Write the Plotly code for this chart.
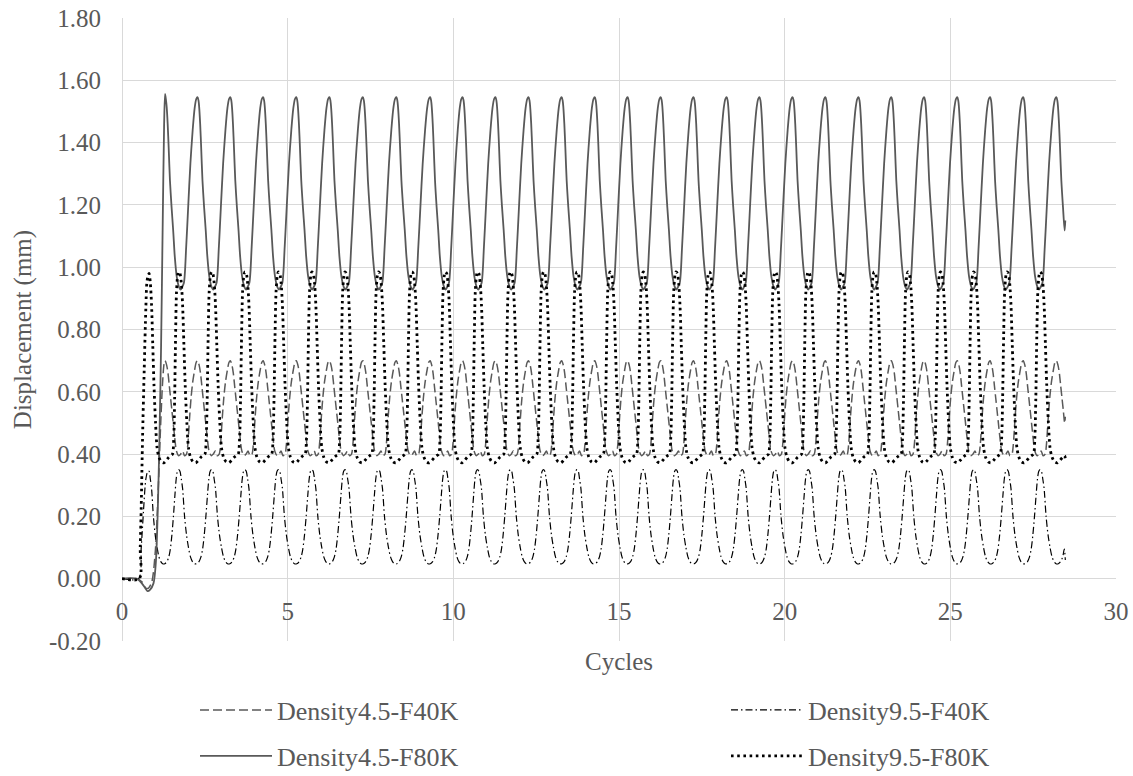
import plotly.graph_objects as go

# ---------------- data ----------------
peaks_45 = [1.30, 2.28, 3.27, 4.26, 5.26, 6.26, 7.27, 8.28, 9.30, 10.28,
            11.27, 12.27, 13.27, 14.27, 15.26, 16.26, 17.25, 18.25, 19.24,
            20.24, 21.23, 22.23, 23.22, 24.21, 25.21, 26.20, 27.20, 28.20, 29.20]
peaks_95 = [0.78, 1.71, 2.70, 3.71, 4.72, 5.73, 6.73, 7.74, 8.75, 9.76,
            10.73, 11.72, 12.72, 13.73, 14.73, 15.73, 16.72, 17.72, 18.72,
            19.71, 20.71, 21.71, 22.70, 23.72, 24.70, 25.70, 26.71, 27.71, 28.71]

f80_45_phase = [0.00, 0.03, 0.05, 0.08, 0.11, 0.15, 0.20, 0.25, 0.30, 0.36,
                0.43, 0.48, 0.52, 0.58, 0.65, 0.71, 0.78, 0.85, 0.91, 0.96]
f80_45_value = [1.546, 1.535, 1.514, 1.46, 1.386, 1.279, 1.193, 1.118, 1.033, 0.969,
                0.936, 0.928, 0.935, 0.95, 1.065, 1.19, 1.333, 1.44, 1.51, 1.54]

f40_45_phase = [0.00, 0.05, 0.09, 0.13, 0.17, 0.21, 0.25, 0.30, 0.35, 0.42,
                0.48, 0.54, 0.60, 0.66, 0.70, 0.75, 0.80, 0.85, 0.91, 0.96]
f40_45_value = [0.70, 0.685, 0.66, 0.62, 0.58, 0.54, 0.50, 0.45, 0.41, 0.395,
                0.40, 0.41, 0.395, 0.40, 0.43, 0.51, 0.58, 0.63, 0.67, 0.695]

f80_95_phase = [0.00, 0.04, 0.08, 0.12, 0.16, 0.20, 0.25, 0.30, 0.36, 0.44,
                0.52, 0.60, 0.68, 0.74, 0.80, 0.84, 0.87, 0.90, 0.93, 0.97]
f80_95_value = [0.985, 0.98, 0.95, 0.88, 0.75, 0.62, 0.50, 0.42, 0.39, 0.375,
                0.372, 0.38, 0.39, 0.395, 0.40, 0.45, 0.58, 0.78, 0.92, 0.975]

f40_95_phase = [0.00, 0.04, 0.08, 0.12, 0.18, 0.24, 0.30, 0.36, 0.42, 0.48,
                0.55, 0.62, 0.68, 0.73, 0.78, 0.83, 0.88, 0.92, 0.96]
f40_95_value = [0.35, 0.345, 0.32, 0.29, 0.20, 0.14, 0.10, 0.07, 0.055, 0.048,
                0.048, 0.055, 0.07, 0.095, 0.14, 0.20, 0.27, 0.32, 0.345]

f80_45_start_x = [0, 0.45, 0.60, 0.70, 0.77, 0.85, 0.95, 1.02, 1.08, 1.13, 1.18, 1.23, 1.27]
f80_45_start_y = [0, 0, -0.015, -0.03, -0.04, -0.035, -0.015, 0.05, 0.22, 0.45, 0.75, 1.15, 1.45]
f80_45_first_peak = 1.556

f40_45_start_x = [0, 0.45, 0.60, 0.72, 0.80, 0.90, 1.00, 1.08, 1.15, 1.22, 1.27]
f40_45_start_y = [0, 0, -0.01, -0.03, -0.03, -0.01, 0.08, 0.25, 0.45, 0.62, 0.69]
f40_45_first_peak = 0.70

f80_95_start_x = [0, 0.52, 0.55, 0.58, 0.62, 0.67, 0.72, 0.75]
f80_95_start_y = [0, 0, 0.10, 0.23, 0.45, 0.67, 0.87, 0.95]
f80_95_first_peak = 0.97

f40_95_start_x = [0, 0.50, 0.58, 0.65, 0.72]
f40_95_start_y = [0, 0, 0.10, 0.22, 0.32]
f40_95_first_peak = 0.345

end_x = 28.47
f80_45_end = 1.15
f40_45_end = 0.52
f80_95_end = 0.385
f40_95_end = 0.06

names = ["Density4.5-F40K", "Density9.5-F40K", "Density4.5-F80K", "Density9.5-F80K"]
x_ticks = [0, 5, 10, 15, 20, 25, 30]
y_ticks = [-0.2, 0.0, 0.2, 0.4, 0.6, 0.8, 1.0, 1.2, 1.4, 1.6, 1.8]


def build(start_x, start_y, first_peak, peaks, phase, value, end_y):
    xs = list(start_x)
    ys = list(start_y)
    for i in range(len(peaks) - 1):
        p0, p1 = peaks[i], peaks[i + 1]
        for k, (f, v) in enumerate(zip(phase, value)):
            x = p0 + f * (p1 - p0)
            if x >= end_x:
                break
            xs.append(x)
            ys.append(first_peak if (i == 0 and k == 0) else v)
    xs.append(end_x)
    ys.append(end_y)
    return xs, ys


series = {
    "Density4.5-F40K": build(f40_45_start_x, f40_45_start_y, f40_45_first_peak, peaks_45,
                             f40_45_phase, f40_45_value, f40_45_end),
    "Density9.5-F40K": build(f40_95_start_x, f40_95_start_y, f40_95_first_peak, peaks_95,
                             f40_95_phase, f40_95_value, f40_95_end),
    "Density4.5-F80K": build(f80_45_start_x, f80_45_start_y, f80_45_first_peak, peaks_45,
                             f80_45_phase, f80_45_value, f80_45_end),
    "Density9.5-F80K": build(f80_95_start_x, f80_95_start_y, f80_95_first_peak, peaks_95,
                             f80_95_phase, f80_95_value, f80_95_end),
}

styles = {
    "Density4.5-F40K": dict(color="#595959", width=1.5, dash="9px,4px"),
    "Density9.5-F40K": dict(color="#000000", width=1.2, dash="7px,3px,1.5px,3px"),
    "Density4.5-F80K": dict(color="#595959", width=1.8, dash="solid"),
    "Density9.5-F80K": dict(color="#000000", width=2.8, dash="2.6px,3.6px"),
}

legend_ids = {"Density4.5-F40K": "legend", "Density9.5-F40K": "legend2",
              "Density4.5-F80K": "legend3", "Density9.5-F80K": "legend4"}

FONT = "'Liberation Serif', 'Times New Roman', Tinos, 'DejaVu Serif', serif"
TXT = "#595959"

fig = go.Figure()
for name in names:
    xs, ys = series[name]
    st = styles[name]
    fig.add_trace(go.Scatter(
        x=xs, y=ys, mode="lines", name=name,
        line=dict(color=st["color"], width=st["width"], dash=st["dash"],
                  shape="spline", smoothing=0.8),
        legend=legend_ids[name], hoverinfo="skip",
    ))

W, H = 1133, 776
ml, mr, mt, mb = 122, 17, 18, 135
pw, ph = W - ml - mr, H - mt - mb


def px2paper(px, py):
    return (px - ml) / pw, (H - mb - py) / ph


leg_common = dict(bgcolor="rgba(0,0,0,0)", borderwidth=0,
                  font=dict(family=FONT, size=26, color=TXT),
                  xanchor="left", yanchor="middle", orientation="h",
                  itemwidth=72)
lx1, ly1 = px2paper(195, 710)
lx2, ly2 = px2paper(726, 756)

fig.update_layout(
    width=W, height=H,
    margin=dict(l=ml, r=mr, t=mt, b=mb, autoexpand=False),
    paper_bgcolor="white", plot_bgcolor="white",
    showlegend=True,
    legend=dict(x=lx1, y=ly1, **leg_common),
    legend2=dict(x=lx2, y=ly1, **leg_common),
    legend3=dict(x=lx1, y=ly2, **leg_common),
    legend4=dict(x=lx2, y=ly2, **leg_common),
    font=dict(family=FONT, color=TXT),
)

y0_paper = (0 - y_ticks[0]) / (y_ticks[-1] - y_ticks[0])

fig.update_xaxes(
    range=[x_ticks[0], x_ticks[-1]], tickvals=x_ticks, ticktext=[str(v) for v in x_ticks],
    showgrid=True, gridcolor="#d9d9d9", gridwidth=1.3,
    zeroline=True, zerolinecolor="#d9d9d9", zerolinewidth=1.3,
    showline=False, ticks="", anchor="free", position=y0_paper,
    ticklabelstandoff=15,
    tickfont=dict(family=FONT, size=25, color=TXT),
    title=dict(text="Cycles", font=dict(family=FONT, size=25, color=TXT), standoff=28),
    automargin=False,
)
fig.update_yaxes(
    range=[y_ticks[0], y_ticks[-1]], tickvals=y_ticks,
    ticktext=[f"{v:.2f}" for v in y_ticks],
    showgrid=True, gridcolor="#d9d9d9", gridwidth=1.3,
    zeroline=True, zerolinecolor="#d9d9d9", zerolinewidth=1.3,
    showline=False, ticks="", ticklabelstandoff=20,
    tickfont=dict(family=FONT, size=25, color=TXT),
    title=dict(text="Displacement (mm)", font=dict(family=FONT, size=25, color=TXT), standoff=10),
    automargin=False,
)

fig.write_html("out.html")
